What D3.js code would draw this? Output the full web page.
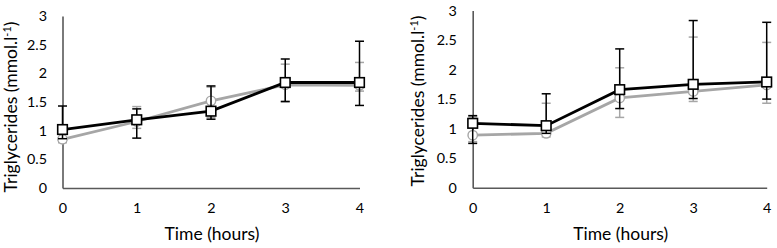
<!DOCTYPE html>
<html><head><meta charset="utf-8">
<script src="https://cdnjs.cloudflare.com/ajax/libs/d3/7.8.5/d3.min.js"></script>
<style>body{margin:0;background:#fff}svg{display:block}text{font-family:Lato,"Open Sans",sans-serif;fill:#000}</style>
</head><body>
<script>
const timePoints = [0, 1, 2, 3, 4];
const yTicks = [0, 0.5, 1, 1.5, 2, 2.5, 3];
const yTickLabels = ["0", "0.5", "1", "1.5", "2", "2.5", "3"];

const leftBlack   = [1.02, 1.19, 1.34, 1.84, 1.84];
const leftBlackHi = [1.43, 1.38, 1.78, 2.25, 2.56];
const leftBlackLo = [0.86, 0.87, 1.20, 1.51, 1.44];
const leftGrey    = [0.85, 1.16, 1.52, 1.80, 1.79];
const leftGreyHi  = [0.95, 1.42, 1.76, 2.16, 2.19];
const leftGreyLo  = [0.79, 1.04, 1.23, 1.50, 1.69];

const rightBlack   = [1.09, 1.05, 1.66, 1.75, 1.79];
const rightBlackHi = [1.22, 1.59, 2.35, 2.83, 2.80];
const rightBlackLo = [0.75, 0.92, 1.34, 1.51, 1.50];
const rightGrey    = [0.89, 0.92, 1.52, 1.63, 1.74];
const rightGreyHi  = [1.20, 1.43, 2.03, 2.55, 2.46];
const rightGreyLo  = [0.78, 0.86, 1.19, 1.46, 1.43];

const svg = d3.select("body").append("svg").attr("width", 777).attr("height", 248);

// measure font size that gives a target text width
function sizeFor(str, target) {
  const t = svg.append("text").style("font-size", "20px").text(str);
  const w = t.node().getComputedTextLength();
  t.remove();
  return 20 * target / w;
}
const tickSize = sizeFor("2.5", 20);
const titleSize = sizeFor("Time (hours)", 95);

function panel(cfg) {
  const x = d3.scaleLinear().domain([0, 4]).range([cfg.x0, cfg.x1]);
  const y = d3.scaleLinear().domain([0, 3]).range([cfg.y0, cfg.y1]);
  const g = svg.append("g");
  const yAxis = d3.axisLeft(y).tickValues(yTicks).tickFormat((d, i) => yTickLabels[i]).tickSize(0).tickPadding(cfg.ypad);
  const ya = g.append("g").attr("transform", `translate(${cfg.x0},0)`).call(yAxis);
  const xAxis = d3.axisBottom(x).tickValues(timePoints).tickFormat(d3.format("d")).tickSize(0).tickPadding(15);
  const xa = g.append("g").attr("transform", `translate(0,${cfg.y0})`).call(xAxis);
  [ya, xa].forEach(a => {
    a.select(".domain").attr("stroke", "#595959").attr("stroke-width", 1.6);
    a.selectAll("text").style("font-size", tickSize + "px").style("font-family", "Lato, 'Open Sans', sans-serif").attr("fill", "#000");
  });
  g.append("text").attr("x", (cfg.x0 + cfg.x1) / 2 + 1).attr("y", 240).attr("text-anchor", "middle")
    .style("font-size", titleSize + "px").text("Time (hours)");
  const yt = g.append("text").attr("transform", `translate(${cfg.tx},${cfg.ty}) rotate(-90)`)
    .attr("text-anchor", "middle").style("font-size", titleSize + "px");
  yt.append("tspan").text("Triglycerides (mmol.l");
  yt.append("tspan").attr("dy", -6).style("font-size", (titleSize * 0.62) + "px").text("-1");
  yt.append("tspan").attr("dy", 6).text(")");

  function series(vals, hi, lo, color, marker) {
    const sg = g.append("g");
    const cap = 4.5;
    timePoints.forEach((t, i) => {
      const cx = x(t);
      sg.append("line").attr("x1", cx).attr("x2", cx).attr("y1", y(hi[i])).attr("y2", y(lo[i]))
        .attr("stroke", color).attr("stroke-width", 1.5);
      [hi[i], lo[i]].forEach(v => sg.append("line").attr("x1", cx - cap).attr("x2", cx + cap)
        .attr("y1", y(v)).attr("y2", y(v)).attr("stroke", color).attr("stroke-width", 1.5));
    });
    const line = d3.line().x((d, i) => x(timePoints[i])).y(d => y(d));
    sg.append("path").datum(vals).attr("d", line).attr("fill", "none").attr("stroke", color).attr("stroke-width", 2.8);
    vals.forEach((v, i) => {
      if (marker === "circle") {
        sg.append("circle").attr("cx", x(timePoints[i])).attr("cy", y(v)).attr("r", 4.7)
          .attr("fill", "#fff").attr("stroke", color).attr("stroke-width", 1.4);
      } else {
        sg.append("rect").attr("x", x(timePoints[i]) - 4.8).attr("y", y(v) - 4.8).attr("width", 9.6).attr("height", 9.6)
          .attr("fill", "#fff").attr("stroke", color).attr("stroke-width", 1.6);
      }
    });
  }
  series(cfg.grey, cfg.greyHi, cfg.greyLo, "#a6a6a6", "circle");
  series(cfg.black, cfg.blackHi, cfg.blackLo, "#000", "square");
}

panel({x0: 62.5, x1: 359.5, y0: 188, y1: 16, ypad: 15.5, tx: 17, ty: 107,
  black: leftBlack, blackHi: leftBlackHi, blackLo: leftBlackLo,
  grey: leftGrey, greyHi: leftGreyHi, greyLo: leftGreyLo});
panel({x0: 472.7, x1: 766.7, y0: 187.7, y1: 10.5, ypad: 16, tx: 424, ty: 101,
  black: rightBlack, blackHi: rightBlackHi, blackLo: rightBlackLo,
  grey: rightGrey, greyHi: rightGreyHi, greyLo: rightGreyLo});
</script>
</body></html>
